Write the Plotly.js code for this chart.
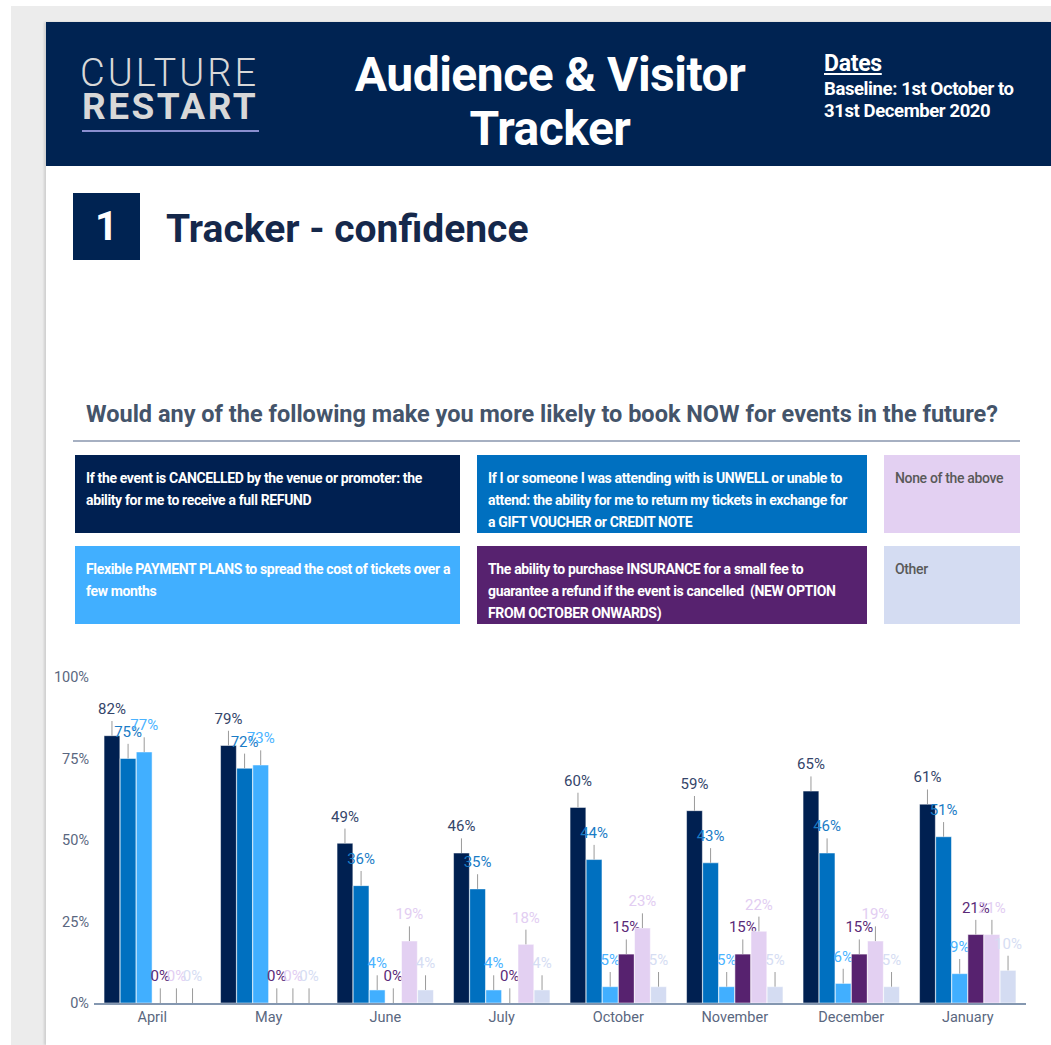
<!DOCTYPE html>
<html>
<head>
<meta charset="utf-8">
<script src="https://cdn.plot.ly/plotly-3.0.1.min.js"></script>
<style>
  html, body { margin: 0; padding: 0; background: #fff; }
  body { width: 1051px; height: 1045px; position: relative; overflow: hidden; font-family: Roboto, "Open Sans", sans-serif; }
  .bg { position: absolute; left: 11px; top: 6px; right: 0; bottom: 0; background: #ececec; }
  .panel { position: absolute; left: 46px; top: 22px; width: 1005px; height: 1023px; background: #fff; box-shadow: -2px 0 2px rgba(0,0,0,0.12); }
  .header { position: absolute; left: 46px; top: 22px; width: 1005px; height: 144px; background: #002352; }
  .logo1 { position: absolute; left: 80px; top: 51px; font-size: 38px; font-weight: 300; color: #d8d8d8; letter-spacing: 3px; }
  .logo2 { position: absolute; left: 82px; top: 85px; font-size: 37px; font-weight: 700; color: #d8d8d8; letter-spacing: 2.5px; }
  .logoline { position: absolute; left: 82px; top: 130px; width: 177px; height: 2px; background: #8a8fd0; }
  .title { position: absolute; left: 300px; top: 48px; width: 500px; text-align: center; font-size: 48px; font-weight: 700; color: #fff; line-height: 54px; letter-spacing: -0.5px; }
  .dates { position: absolute; left: 824px; top: 50px; color: #fff; font-weight: 700; }
  .dates .d1 { font-size: 23px; text-decoration: underline; letter-spacing: -0.3px; }
  .dates .d2 { font-size: 18.5px; line-height: 22px; margin-top: 1px; letter-spacing: -0.4px; }
  .num { position: absolute; left: 73px; top: 193px; width: 67px; height: 67px; background: #002352; color: #fff; font-size: 40px; font-weight: 700; text-align: center; line-height: 68px; }
  .sect { position: absolute; left: 166px; top: 206px; font-size: 39px; font-weight: 700; color: #15284b; }
  .question { position: absolute; left: 86px; top: 400px; font-size: 23.5px; font-weight: 700; color: #44546a; }
  .rule { position: absolute; left: 73px; top: 440px; width: 947px; height: 2px; background: #a6b0c2; }
  .box { position: absolute; box-sizing: border-box; padding: 12px 8px 0 11px; font-size: 14px; font-weight: 700; line-height: 22px; color: #fff; letter-spacing: -0.35px; }
  #chart { position: absolute; left: 46px; top: 660px; width: 1005px; height: 385px; }
</style>
</head>
<body>
<div class="bg"></div>
<div class="panel"></div>
<div class="header"></div>
<div class="logo1">CULTURE</div>
<div class="logo2">RESTART</div>
<div class="logoline"></div>
<div class="title">Audience &amp; Visitor<br>Tracker</div>
<div class="dates"><div class="d1">Dates</div><div class="d2">Baseline: 1st October to<br>31st December 2020</div></div>
<div class="num">1</div>
<div class="sect">Tracker - confidence</div>
<div class="question">Would any of the following make you more likely to book NOW for events in the future?</div>
<div class="rule"></div>
<div id="boxes"></div>
<div id="chart"></div>
<script>
// months on the x axis
const months = ["April", "May", "June", "July", "October", "November", "December", "January"];

// one array per answer option (percent)
const refund    = [82, 79, 49, 46, 60, 59, 65, 61];
const voucher   = [75, 72, 36, 35, 44, 43, 46, 51];
const payment   = [77, 73, 4, 4, 5, 5, 6, 9];
const insurance = [0, 0, 0, 0, 15, 15, 15, 21];
const noneAbove = [0, 0, 19, 18, 23, 22, 19, 21];
const other     = [0, 0, 4, 4, 5, 5, 5, 10];

const seriesNames = [
    "If the event is CANCELLED by the venue or promoter: the<br>ability for me to receive a full REFUND",
    "If I or someone I was attending with is UNWELL or unable to<br>attend: the ability for me to return my tickets in exchange for<br>a GIFT VOUCHER or CREDIT NOTE",
    "Flexible PAYMENT PLANS to spread the cost of tickets over a<br>few months",
    "The ability to purchase INSURANCE for a small fee to<br>guarantee a refund if the event is cancelled&nbsp; (NEW OPTION<br>FROM OCTOBER ONWARDS)",
    "None of the above",
    "Other"
];
const seriesValues = [refund, voucher, payment, insurance, noneAbove, other];
const colors = ["#002051", "#0070c0", "#41afff", "#57226f", "#e3d0f2", "#d4dcf2"];
const labelColors = ["#34456a", "#1a7cc6", "#4ab3ff", "#5a2a78", "#e2cdf2", "#d6ddf3"];

// legend boxes (html, laid out like the source slide)
const boxSpots = [
    [75, 455, 385, 78], [477, 455, 390, 78],
    [75, 546, 385, 78], [477, 546, 390, 78],
    [884, 455, 136, 78], [884, 546, 136, 78]
];
const boxes = document.getElementById("boxes");
seriesNames.forEach((name, i) => {
    let d = document.createElement("div");
    d.className = "box";
    let s = boxSpots[i];
    d.style.left = s[0] + "px"; d.style.top = s[1] + "px";
    d.style.width = s[2] + "px"; d.style.height = s[3] + "px";
    d.style.background = colors[i];
    if (i >= 4) { d.style.color = "#595959"; d.style.fontWeight = "500"; }
    d.innerHTML = name;
    boxes.appendChild(d);
});

// leader line length above each bar
const lead = 4.5;

let traces = [];
seriesValues.forEach((vals, i) => {
    // the actual bars, with a thin grey leader line going up
    traces.push({
        x: months,
        y: vals,
        type: "bar",
        offsetgroup: "g" + i,
        marker: {color: colors[i], line: {color: "#ffffff", width: 0.5}},
        error_y: {type: "data", symmetric: false, array: vals.map(() => lead), arrayminus: vals.map(() => 0),
                  color: "#9a9a9a", thickness: 1, width: 0},
        hoverinfo: "skip"
    });
    // invisible bar sitting on top, only used to place the label
    traces.push({
        x: months,
        y: vals.map(() => lead),
        base: vals,
        type: "bar",
        offsetgroup: "g" + i,
        marker: {color: "rgba(0,0,0,0)"},
        text: vals.map(v => v + "%"),
        textposition: "outside",
        constraintext: "none",
        cliponaxis: false,
        textfont: {family: "Roboto", size: 15, color: labelColors[i]},
        hoverinfo: "skip"
    });
});

let layout = {
    width: 1005,
    height: 385,
    margin: {l: 48, r: 25, t: 17, b: 42},
    barmode: "group",
    bargap: 0.17,
    bargroupgap: 0.02,
    showlegend: false,
    paper_bgcolor: "rgba(0,0,0,0)",
    plot_bgcolor: "rgba(0,0,0,0)",
    font: {family: "Roboto", color: "#595959"},
    xaxis: {
        showline: true, linecolor: "#8497b0", linewidth: 1.5,
        ticks: "", tickfont: {size: 14.5, color: "#5a6780"}
    },
    yaxis: {
        range: [0, 100], tickvals: [0, 25, 50, 75, 100], ticktext: ["0%", "25%", "50%", "75%", "100%"],
        showgrid: false, zeroline: false, showline: false,
        ticklabelstandoff: 4,
        tickfont: {size: 14.5, color: "#5a6780"}
    }
};

Plotly.newPlot("chart", traces, layout, {displayModeBar: false, staticPlot: true});
</script>
</body>
</html>
